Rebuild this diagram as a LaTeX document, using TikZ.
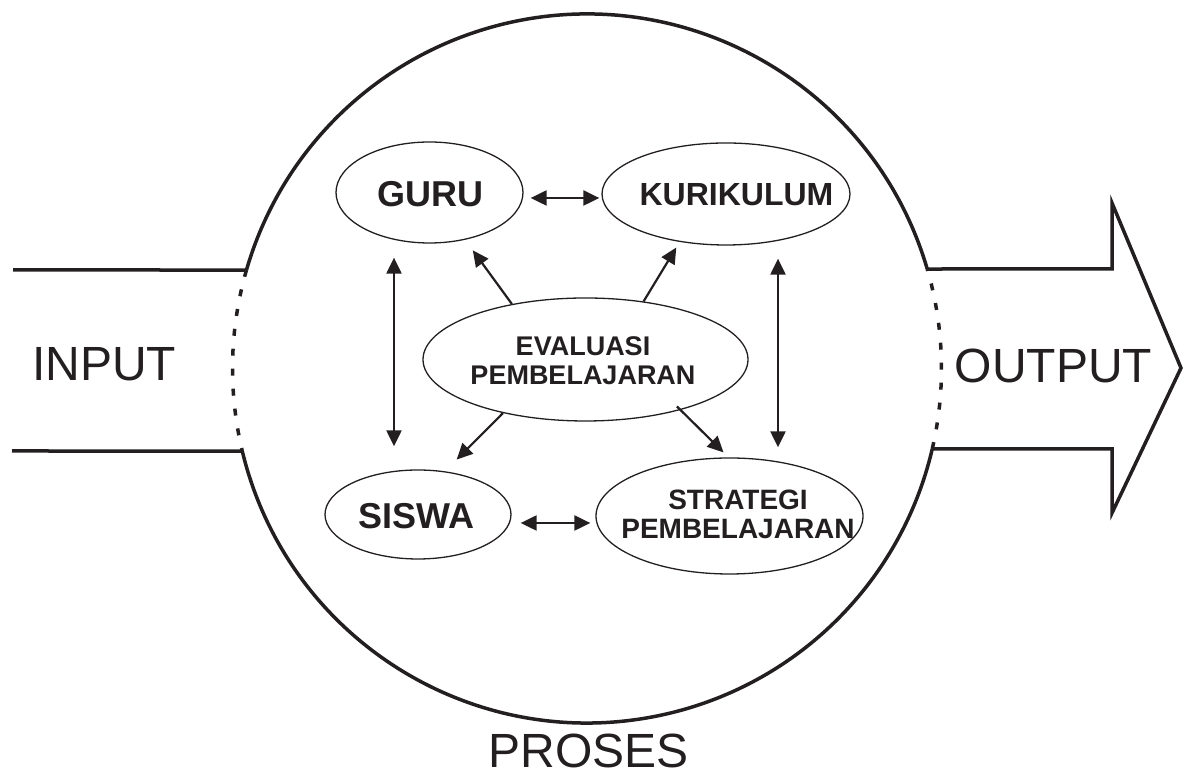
\documentclass[tikz,border=0pt]{standalone}
\usepackage{fontspec}
\setmainfont{Liberation Sans}
\usetikzlibrary{shapes.geometric,arrows.meta,calc}
\definecolor{ink}{RGB}{35,31,32}
\begin{document}
\begin{tikzpicture}[x=1pt,y=1pt,
  bigline/.style={draw=ink,line width=3.5pt},
  dotline/.style={draw=ink,line width=3.5pt,dash pattern=on 7pt off 13pt},
  ell/.style={ellipse,draw=ink,line width=1.3pt,inner sep=0pt},
  lbl/.style={text=ink,inner sep=0pt,align=center},
  bigtext/.style={text=ink,inner sep=0pt,font=\fontsize{48}{50}\selectfont},
  arr/.style={draw=ink,line width=2.2pt,-{Triangle[length=16pt,width=15pt]}},
  dbl/.style={draw=ink,line width=2.2pt,{Triangle[length=16pt,width=15pt]}-{Triangle[length=16pt,width=15pt]}}]
\useasboundingbox (0,0) rectangle (1187,775);

% big circle
\coordinate (C) at (587,406.5);
\draw[bigline] ([shift={(C)}]16.30:354.5) arc[start angle=16.30, end angle=163.87, radius=354.5];
\draw[bigline] ([shift={(C)}]193.47:354.5) arc[start angle=193.47, end angle=346.88, radius=354.5];
\draw[dotline] ([shift={(C)}]163.87:354.5) arc[start angle=163.87, end angle=193.47, radius=354.5];
\draw[dotline] ([shift={(C)}]-13.12:354.5) arc[start angle=-13.12, end angle=16.30, radius=354.5];

\coordinate (lu) at ([shift={(C)}]163.87:354.5);
\coordinate (ll) at ([shift={(C)}]193.47:354.5);
\coordinate (ru) at ([shift={(C)}]16.30:354.5);
\coordinate (rl) at ([shift={(C)}]-13.12:354.5);
\coordinate (inu) at (13,505);
\coordinate (inl) at (12,324);

% input lines
\draw[bigline] (inu) -- (lu);
\draw[bigline] (inl) -- (ll);
% output arrow
\draw[bigline,line join=miter] (ru) -- (1112,506) -- (1112,572) -- (1181,407) -- (1112,262) -- (1112,326) -- (rl);

% labels outside
\node[bigtext] (input) at (104,410.5) {INPUT};
\node[bigtext] (output) at (1053.5,409.5) {OUTPUT};
\node[bigtext] (proses) at (588.5,24) {PROSES};

% ellipses
\node[ell,minimum width=187pt,minimum height=101pt] (guru) at (429.5,582.5) {};
\node[ell,minimum width=248pt,minimum height=102pt] (kur) at (726,581) {};
\node[ell,minimum width=325pt,minimum height=123pt] (eval) at (585.5,415.5) {};
\node[ell,minimum width=186pt,minimum height=89pt] (siswa) at (418,260.5) {};
\node[ell,minimum width=267pt,minimum height=116pt] (strat) at (729.5,259) {};

% texts
\node[lbl,font=\bfseries\fontsize{36}{38}\selectfont] at (430.5,581) {GURU};
\node[lbl,font=\bfseries\fontsize{32}{34}\selectfont] at (736.5,580.5) {KURIKULUM};
\node[lbl,font=\bfseries\fontsize{27}{29}\selectfont] at (583,414.5) {EVALUASI\\PEMBELAJARAN};
\node[lbl,font=\bfseries\fontsize{36}{38}\selectfont] at (416.5,258.5) {SISWA};
\node[lbl,font=\bfseries\fontsize{28}{29}\selectfont] at (738,261) {STRATEGI\\PEMBELAJARAN};

% connectors
\draw[dbl] ($(guru.east)+(7,-5.5)$) -- ($(kur.west)+(-2,-4)$);
\draw[dbl] ($(siswa.east)+(9,-8.5)$) -- ($(strat.west)+(-5,-7)$);
\draw[dbl] ($(guru.south)+(-35.5,-14)$) -- ($(siswa.north)+(-24,23)$);
\draw[dbl] ($(kur.south)+(52,-13)$) -- ($(strat.north)+(48.5,10)$);
\draw[arr,shorten >=13pt] (eval.143) -- (guru.-53);
\draw[arr,shorten >=6.5pt] (eval.45) -- (kur.226);
\draw[arr,shorten >=16.5pt] (eval.213) -- (siswa.58.5);
\draw[arr,shorten <=-5pt,shorten >=7pt] (eval.-28) -- (strat.91);
\end{tikzpicture}
\end{document}
